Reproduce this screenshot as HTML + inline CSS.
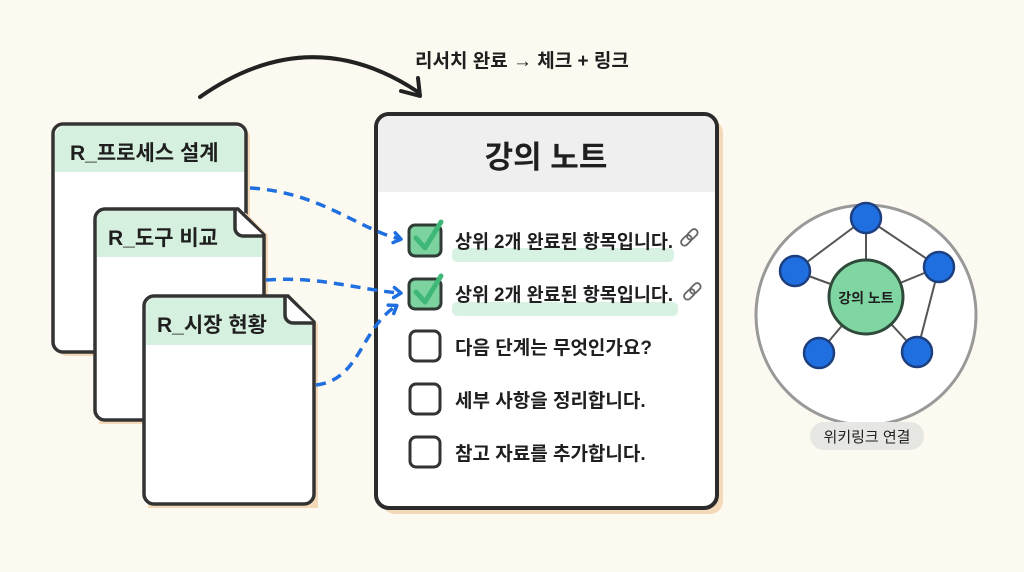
<!DOCTYPE html>
<html><head><meta charset="utf-8"><style>
html,body{margin:0;padding:0;background:#fcf9f0;}
svg{display:block;}
text{font-family:"Liberation Sans","Noto Sans CJK KR",sans-serif;fill:#1f1f1f;}
</style></head><body>
<svg width="1024" height="572" viewBox="0 0 1024 572" xmlns="http://www.w3.org/2000/svg">
<defs>
<marker id="ab" markerWidth="14" markerHeight="14" refX="8" refY="7" orient="auto" markerUnits="userSpaceOnUse"><path d="M2,2 L9,7 L2,12" fill="none" stroke="#1f6fe0" stroke-width="3.5" stroke-linecap="round" stroke-linejoin="round"/></marker>
<g id="lnk" fill="none" stroke="#666" stroke-width="1.8">
<rect x="0" y="5" width="11" height="6" rx="3" transform="rotate(-45 8 8)"/>
<rect x="5" y="5" width="11" height="6" rx="3" transform="rotate(-45 8 8) translate(0 0)"/>
</g>
</defs>
<rect width="1024" height="572" fill="#fcf9f0"/>

<path d="M200,97 Q310,20 418,92" fill="none" stroke="#222" stroke-width="4" stroke-linecap="round"/>
<path d="M401,91 L420,96 L418,78" fill="none" stroke="#222" stroke-width="4" stroke-linecap="round" stroke-linejoin="round"/>
<text x="415" y="67" font-size="19" font-weight="bold" fill="#222">리서치 완료 → 체크 + 링크</text>

<rect x="57" y="128" width="193" height="228" rx="10" fill="#f3d9b8"/>
<rect x="53" y="124" width="193" height="228" rx="10" fill="#fff" stroke="#333" stroke-width="3.5"/>
<path d="M55,172 V136 a10,10 0 0 1 10,-10 H234 a10,10 0 0 1 10,10 V172Z" fill="#d5f0df"/>
<text x="70" y="160" font-size="21" font-weight="bold">R_프로세스 설계</text>

<path d="M99,213 H246 L268,235 V424 H99Z" fill="#f3d9b8"/>
<path d="M105,209 H238 L264,235 V410 a10,10 0 0 1 -10,10 H105 a10,10 0 0 1 -10,-10 V219 a10,10 0 0 1 10,-10Z" fill="#fff" stroke="#333" stroke-width="3.5"/>
<path d="M97,257 V219 a8,8 0 0 1 8,-8 H237 L262,236 V257Z" fill="#d5f0df"/>
<path d="M235,209 V228 a8,8 0 0 0 8,8 H264" fill="#fff" stroke="#333" stroke-width="3.5"/>
<text x="108" y="245" font-size="21" font-weight="bold">R_도구 비교</text>

<path d="M148,300 H292 L318,324 V508 H148Z" fill="#f3d9b8"/>
<path d="M154,296 H288 L314,322 V494 a10,10 0 0 1 -10,10 H154 a10,10 0 0 1 -10,-10 V306 a10,10 0 0 1 10,-10Z" fill="#fff" stroke="#333" stroke-width="3.5"/>
<path d="M146,345 V306 a8,8 0 0 1 8,-8 H287 L312,323 V345Z" fill="#d5f0df"/>
<path d="M285,296 V315 a8,8 0 0 0 8,8 H314" fill="#fff" stroke="#333" stroke-width="3.5"/>
<text x="157" y="332" font-size="21" font-weight="bold">R_시장 현황</text>

<rect x="382" y="120" width="341" height="394" rx="13" fill="#f3d9b8"/>
<rect x="376" y="114" width="341" height="394" rx="13" fill="#fff" stroke="#2b2b2b" stroke-width="4"/>
<path d="M378,192 V127 a11,11 0 0 1 11,-11 H704 a11,11 0 0 1 11,11 V192Z" fill="#efefef"/>
<text x="546" y="168" font-size="31" font-weight="bold" text-anchor="middle">강의 노트</text>

<path d="M250,188 C320,192 360,230 400,239" fill="none" stroke="#1f6fe0" stroke-width="3.5" stroke-dasharray="10,7" marker-end="url(#ab)"/>
<path d="M266,280 C320,276 360,290 400,293" fill="none" stroke="#1f6fe0" stroke-width="3.5" stroke-dasharray="10,7" marker-end="url(#ab)"/>
<path d="M316,385 C360,380 360,330 396,306" fill="none" stroke="#1f6fe0" stroke-width="3.5" stroke-dasharray="10,7" marker-end="url(#ab)"/>

<rect x="452" y="248" width="222" height="14" rx="5" fill="#d7f2e2"/>
<rect x="452" y="302" width="226" height="14" rx="5" fill="#d7f2e2"/>
<g stroke="#2f3b35" stroke-width="3">
<rect x="409" y="225" width="32" height="31" rx="6" fill="#7dd3a0"/>
<rect x="409" y="279" width="32" height="30" rx="6" fill="#7dd3a0"/>
</g>
<g fill="none" stroke="#3fb877" stroke-width="5" stroke-linecap="round" stroke-linejoin="round">
<path d="M416,238 L425,248 L441,222"/>
<path d="M416,292 L425,302 L441,276"/>
</g>
<g fill="#fff" stroke="#333" stroke-width="3">
<rect x="410" y="331" width="30" height="30" rx="6"/>
<rect x="410" y="384" width="30" height="30" rx="6"/>
<rect x="410" y="437" width="30" height="30" rx="6"/>
</g>
<g font-size="19" font-weight="bold">
<text x="455" y="248" textLength="218" lengthAdjust="spacingAndGlyphs">상위 2개 완료된 항목입니다.</text>
<text x="455" y="301" textLength="218" lengthAdjust="spacingAndGlyphs">상위 2개 완료된 항목입니다.</text>
<text x="455" y="354">다음 단계는 무엇인가요?</text>
<text x="455" y="407">세부 사항을 정리합니다.</text>
<text x="455" y="460">참고 자료를 추가합니다.</text>
</g>
<g fill="none" stroke="#666" stroke-width="1.8">
<rect x="680" y="237" width="12" height="7" rx="3.5" transform="rotate(-45 686 240)"/>
<rect x="686" y="231" width="12" height="7" rx="3.5" transform="rotate(-45 692 234)"/>
<rect x="683" y="291" width="12" height="7" rx="3.5" transform="rotate(-45 689 294)"/>
<rect x="689" y="285" width="12" height="7" rx="3.5" transform="rotate(-45 695 288)"/>
</g>

<circle cx="866" cy="315" r="110" fill="#fff" stroke="#999" stroke-width="3"/>
<g stroke="#555" stroke-width="2">
<line x1="866" y1="297" x2="866" y2="218"/>
<line x1="866" y1="297" x2="795" y2="271"/>
<line x1="866" y1="297" x2="939" y2="267"/>
<line x1="866" y1="297" x2="819" y2="353"/>
<line x1="866" y1="297" x2="917" y2="352"/>
<line x1="795" y1="271" x2="866" y2="218"/>
<line x1="866" y1="218" x2="939" y2="267"/>
<line x1="939" y1="267" x2="917" y2="352"/>
</g>
<circle cx="866" cy="297" r="37" fill="#7fd6a3" stroke="#2f4a3a" stroke-width="3"/>
<text x="866" y="303" font-size="14" font-weight="bold" text-anchor="middle">강의 노트</text>
<g fill="#1f6fe0" stroke="#1d3f80" stroke-width="2.5">
<circle cx="866" cy="218" r="15"/>
<circle cx="795" cy="271" r="15"/>
<circle cx="939" cy="267" r="15"/>
<circle cx="819" cy="353" r="15"/>
<circle cx="917" cy="352" r="15"/>
</g>
<rect x="810" y="422" width="114" height="28" rx="14" fill="#e6e6e3"/>
<text x="867" y="442" font-size="15" text-anchor="middle" fill="#666">위키링크 연결</text>
</svg>
</body></html>
